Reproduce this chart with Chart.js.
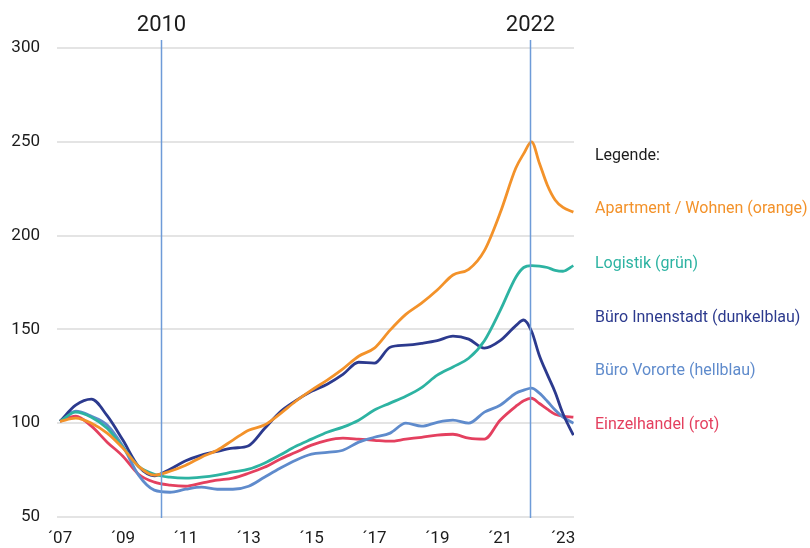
<!DOCTYPE html>
<html>
<head>
<meta charset="utf-8">
<script src="https://cdn.jsdelivr.net/npm/chart.js@4.4.1/dist/chart.umd.min.js"></script>
<style>
  html, body { margin: 0; padding: 0; background: #fff; }
  #wrap { position: relative; width: 810px; height: 548px; font-family: Roboto, sans-serif; }
  #legend { position: absolute; left: 595px; top: 0; }
  #legend div { position: absolute; left: 0; white-space: nowrap; font-size: 16px; line-height: 20px; }
</style>
</head>
<body>
<div id="wrap">
  <canvas id="chart" width="810" height="548"></canvas>
  <div id="legend"></div>
</div>
<script>
  const years = [2007, 2007.5, 2008, 2008.5, 2009, 2009.5, 2010, 2010.5, 2011, 2011.5, 2012, 2012.5,
    2013, 2013.5, 2014, 2014.5, 2015, 2015.5, 2016, 2016.5, 2017, 2017.5, 2018, 2018.5, 2019, 2019.5,
    2020, 2020.5, 2021, 2021.5, 2021.75, 2022, 2022.25, 2022.5, 2022.75, 2023, 2023.33];

  const apartment = [101, 102.7, 100, 94.7, 86.7, 77, 72.3, 74.4, 77.6, 81.9, 85.6, 91,
    96.3, 99, 105, 111.7, 117.6, 123, 129, 135.7, 140, 149.6, 158, 164, 171, 179,
    182, 192, 212, 236, 243.7, 250, 238.6, 227, 219, 215, 212.5];
  const logistik = [101, 105.9, 103.2, 97.3, 87.2, 77, 72.8, 71.2, 70.7, 71.2, 72.3, 74,
    75.5, 78.7, 83, 87.7, 91.5, 95.2, 97.9, 101.6, 107, 110.7, 114.4, 119, 125.6, 130,
    134.6, 144, 160, 177.8, 183, 184, 183.7, 183, 181.5, 181, 184];
  const bueroInnen = [101, 109.6, 112.8, 104, 91, 77, 72, 75.5, 80, 83, 85, 86.7,
    88, 97, 106, 112, 117, 120.8, 126, 132.5, 132, 140.5, 141.6, 142.6, 144, 146.4,
    144.8, 140, 144, 152, 155, 149, 136, 126, 116.5, 105, 93.6];
  const bueroVororte = [101, 106.4, 103.7, 99, 87.7, 72.3, 64.3, 63.2, 64.8, 65.9, 64.8, 64.8,
    66.4, 71.2, 76, 80.3, 83.5, 84.5, 85.6, 89.9, 92.5, 94.7, 100, 98.4, 100.5, 101.6,
    100, 105.9, 109.6, 116, 117.6, 118.7, 116, 111.7, 107, 103.2, 100];
  const einzelhandel = [101, 103.7, 98.4, 89.9, 82.4, 72.8, 68.6, 67, 66.4, 68, 69.6, 70.7,
    73.3, 76.5, 80.8, 84.5, 88.3, 90.9, 92, 91.5, 90.9, 90.4, 91.5, 92.5, 93.6, 94.1,
    92, 91.5, 101.6, 109, 112, 113.3, 110.5, 107.5, 104.8, 103.7, 103.2];

  const seriesNames = ['Apartment / Wohnen (orange)', 'Logistik (grün)', 'Büro Innenstadt (dunkelblau)',
    'Büro Vororte (hellblau)', 'Einzelhandel (rot)'];
  const seriesColors = ['#f3922a', '#2db3a2', '#2c3a8e', '#5f8bcc', '#e4405f'];
  const seriesData = [apartment, logistik, bueroInnen, bueroVororte, einzelhandel];

  const tickYears = [2007, 2009, 2011, 2013, 2015, 2017, 2019, 2021, 2023];
  const yTicks = [50, 100, 150, 200, 250, 300];
  const markerYears = [2010.21, 2021.95];
  const markerLabels = ['2010', '2022'];

  const markers = {
    id: 'markers',
    afterDatasetsDraw(chart) {
      const { ctx, scales } = chart;
      ctx.save();
      markerYears.forEach((yr, i) => {
        const x = Math.round(scales.x.getPixelForValue(yr)) + 0.5;
        ctx.strokeStyle = '#6e9bd8';
        ctx.lineWidth = 1.5;
        ctx.beginPath();
        ctx.moveTo(x, 40);
        ctx.lineTo(x, 518);
        ctx.stroke();
        ctx.fillStyle = '#1c1c1c';
        ctx.font = '22px Roboto';
        ctx.textAlign = 'center';
        ctx.textBaseline = 'middle';
        ctx.fillText(markerLabels[i], x, 25);
      });
      ctx.restore();
    }
  };

  new Chart(document.getElementById('chart'), {
    type: 'line',
    data: {
      datasets: seriesNames.map((name, i) => ({
        label: name,
        data: years.map((yr, j) => ({ x: yr, y: seriesData[i][j] })),
        borderColor: seriesColors[i],
        borderWidth: 2.8,
        pointRadius: 0,
        cubicInterpolationMode: 'monotone',
        fill: false
      }))
    },
    options: {
      responsive: false,
      animation: false,
      layout: { padding: { left: 0, right: 236, top: 48, bottom: 0 } },
      plugins: { legend: { display: false }, tooltip: { enabled: false } },
      scales: {
        x: {
          type: 'linear',
          min: 2006.905,
          max: 2023.35,
          afterBuildTicks: s => { s.ticks = tickYears.map(v => ({ value: v })); },
          afterFit: s => { s.height = 31; },
          border: { display: false },
          grid: { display: false, drawTicks: false },
          ticks: {
            padding: 12,
            maxRotation: 0,
            autoSkip: false,
            color: '#1c1c1c',
            font: { family: 'Roboto', size: 17 },
            callback: v => '\u00b4' + String(v).slice(2)
          }
        },
        y: {
          min: 50,
          max: 300,
          afterBuildTicks: s => { s.ticks = yTicks.map(v => ({ value: v })); },
          afterFit: s => { s.width = 57; },
          border: { display: false },
          grid: { color: '#e4e4e4', lineWidth: 2, drawTicks: false },
          ticks: {
            padding: 17,
            color: '#1c1c1c',
            font: { family: 'Roboto', size: 17 }
          }
        }
      }
    },
    plugins: [markers]
  });

  const legend = document.getElementById('legend');
  const head = document.createElement('div');
  head.textContent = 'Legende:';
  head.style.top = '145px';
  head.style.color = '#1c1c1c';
  legend.appendChild(head);
  const legendTops = [198, 253, 307, 360, 414];
  seriesNames.forEach((name, i) => {
    const d = document.createElement('div');
    d.textContent = name;
    d.style.top = legendTops[i] + 'px';
    d.style.color = seriesColors[i];
    legend.appendChild(d);
  });
</script>
</body>
</html>
